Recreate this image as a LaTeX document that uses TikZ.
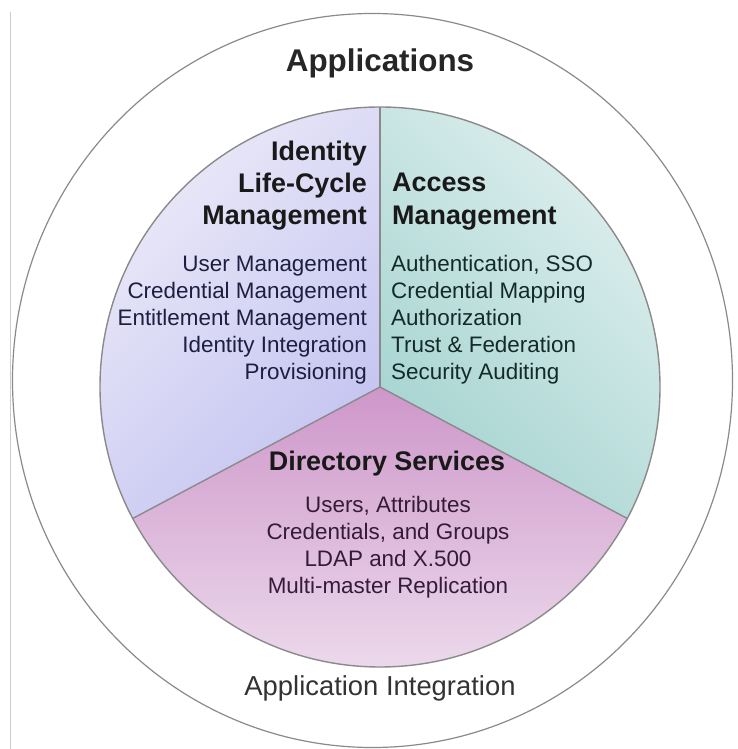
\documentclass[tikz,border=0pt]{standalone}
\usepackage{fontspec}
\setmainfont{Liberation Sans}
\definecolor{rimgray}{HTML}{8A8A8A}
\definecolor{lavlight}{HTML}{ECEAF8}
\definecolor{lavdark}{HTML}{C3C3F1}
\definecolor{teallight}{HTML}{E2F1F0}
\definecolor{tealdark}{HTML}{A6D4D1}
\definecolor{plumlight}{HTML}{F0E2F0}
\definecolor{plumdark}{HTML}{CE97CA}
\definecolor{navytext}{HTML}{1E1E40}
\definecolor{tealtext}{HTML}{142A2A}
\definecolor{plumtext}{HTML}{341C38}
\tikzset{
  heading/.style={font=\fontsize{27}{32}\selectfont\bfseries, inner sep=0pt, text=black!90},
  itemtext/.style={font=\fontsize{22.5}{27}\selectfont, inner sep=0pt},
  rim/.style={draw=rimgray, line width=1.4bp}
}
\begin{document}
\begin{tikzpicture}[x=1bp,y=1bp]
\useasboundingbox (0,0) rectangle (738,749);
% page edge and outer ring
\draw[black!20, line width=0.8bp] (10.5,737) -- (10.5,0);
\draw[draw=rimgray, line width=1.2bp] (372.5,368.5) ellipse [x radius=360, y radius=367];
\coordinate (ctr) at (380,362);
% the three sectors
\shade[top color=lavlight, bottom color=lavdark, shading angle=45]
  (ctr) -- ++(90:280) arc[start angle=90, end angle=208, radius=280] -- cycle;
\shade[top color=teallight, bottom color=tealdark, shading angle=-45]
  (ctr) -- ++(332:280) arc[start angle=332, end angle=450, radius=280] -- cycle;
\shade[top color=plumdark, bottom color=plumlight]
  (ctr) -- ++(208:280) arc[start angle=208, end angle=332, radius=280] -- cycle;
\draw[rim] (ctr) circle (280);
\draw[rim] (ctr) -- ++(90:280);
\draw[rim] (ctr) -- ++(208:280);
\draw[rim] (ctr) -- ++(332:280);
% outer ring texts
\node[heading, font=\fontsize{31.5}{36}\selectfont\bfseries, anchor=base, text=black!85] (apps) at (380,677) {Applications};
\node[itemtext, font=\fontsize{27.5}{30}\selectfont, anchor=base, text=black!80] (appint) at (380,53) {Application Integration};
% identity life-cycle management
\node[heading, anchor=base east] (idm1) at (367,588) {Identity};
\node[heading, anchor=base east] (idm2) at (367,556) {Life-Cycle};
\node[heading, anchor=base east] (idm3) at (367,524) {Management};
\node[itemtext, text=navytext, anchor=base east] (idmA) at (367,477) {User Management};
\node[itemtext, text=navytext, anchor=base east] (idmB) at (367,450) {Credential Management};
\node[itemtext, text=navytext, anchor=base east] (idmC) at (367,423) {Entitlement Management};
\node[itemtext, text=navytext, anchor=base east] (idmD) at (367,396) {Identity Integration};
\node[itemtext, text=navytext, anchor=base east] (idmE) at (367,369) {Provisioning};
% access management
\node[heading, anchor=base west] (am1) at (392,557) {Access};
\node[heading, anchor=base west] (am2) at (392,524) {Management};
\node[itemtext, text=tealtext, anchor=base west] (amA) at (391,477) {Authentication, SSO};
\node[itemtext, text=tealtext, anchor=base west] (amB) at (391,450) {Credential Mapping};
\node[itemtext, text=tealtext, anchor=base west] (amC) at (391,423) {Authorization};
\node[itemtext, text=tealtext, anchor=base west] (amD) at (391,396) {Trust \& Federation};
\node[itemtext, text=tealtext, anchor=base west] (amE) at (391,369) {Security Auditing};
% directory services
\node[heading, anchor=base] (ds) at (387,278) {Directory Services};
\node[itemtext, text=plumtext, anchor=base] (dsA) at (388,236) {Users, Attributes};
\node[itemtext, text=plumtext, anchor=base] (dsB) at (388,209) {Credentials, and Groups};
\node[itemtext, text=plumtext, anchor=base] (dsC) at (388,182) {LDAP and X.500};
\node[itemtext, text=plumtext, anchor=base] (dsD) at (388,155) {Multi-master Replication};
\end{tikzpicture}
\end{document}
